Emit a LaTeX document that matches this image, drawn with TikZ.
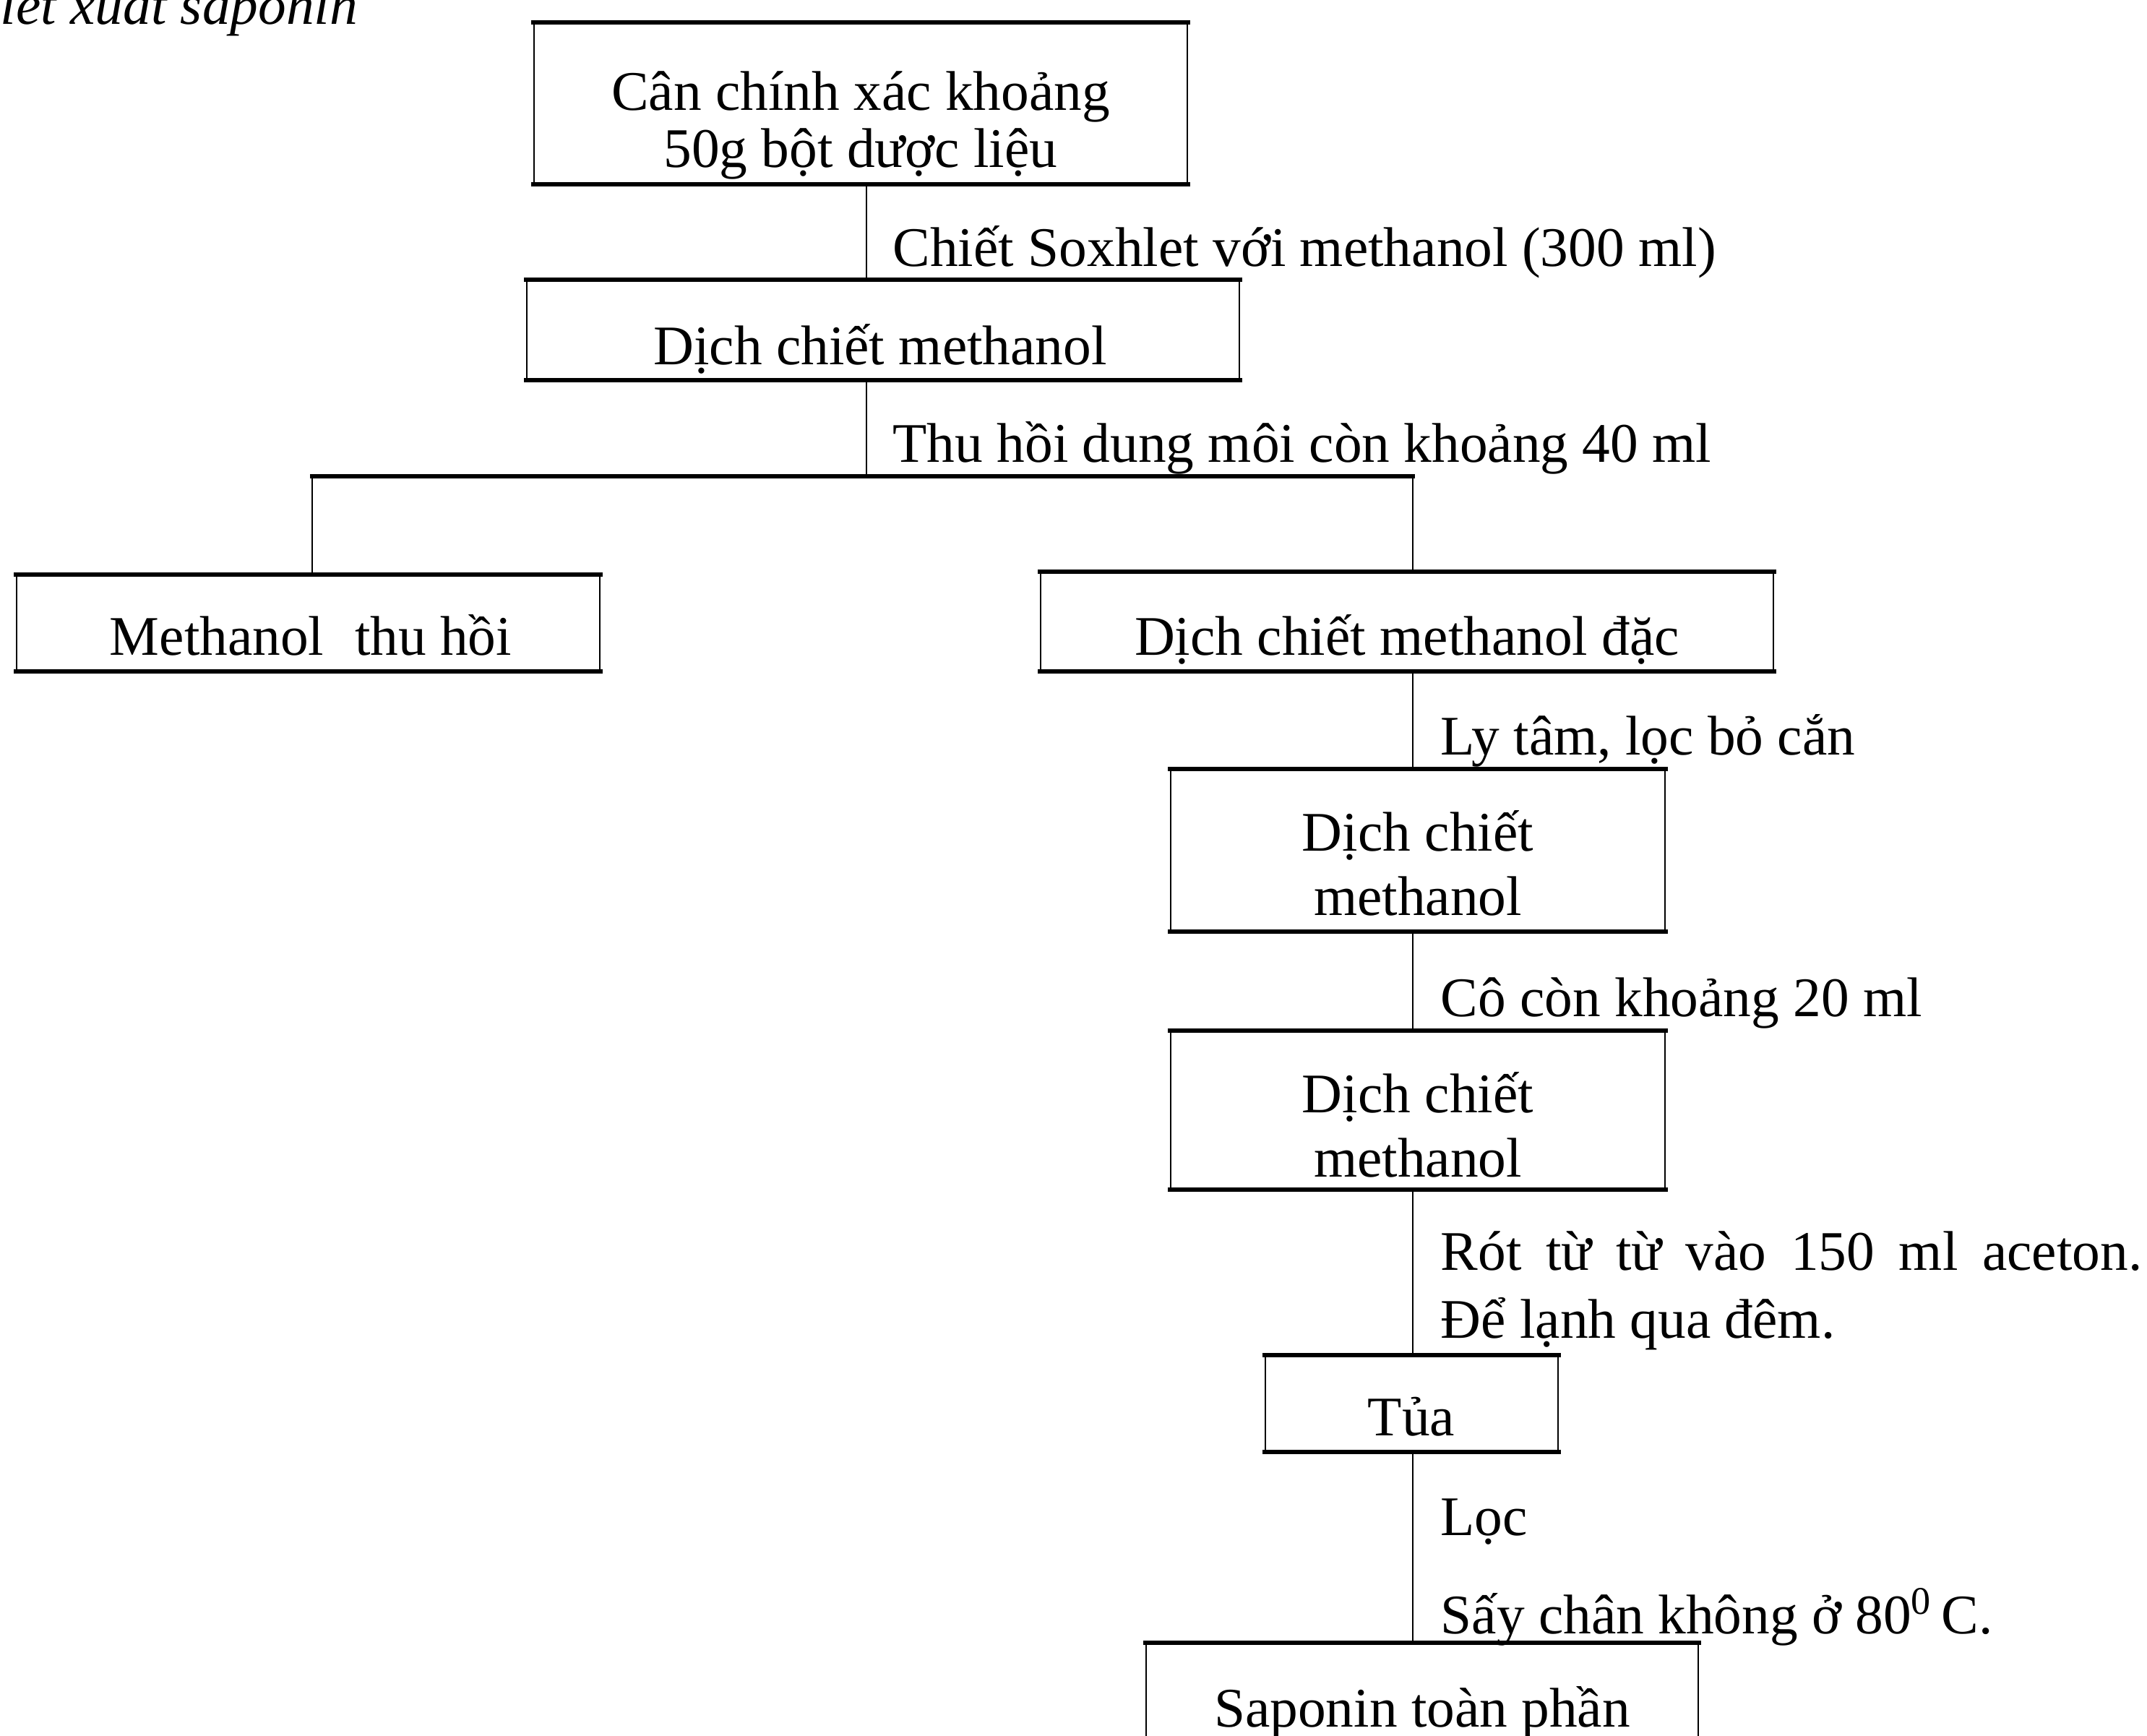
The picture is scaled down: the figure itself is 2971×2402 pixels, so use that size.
\documentclass[tikz,border=0pt]{standalone}
\usepackage{fontspec}
\setmainfont{Liberation Serif}
\usetikzlibrary{fit}
\begin{document}
\begin{tikzpicture}[x=0.01cm,y=-0.01cm,
  box/.style={draw, line width=0.6pt, inner sep=0pt},
  edge/.style={line width=1.8pt, line cap=rect},
  conn/.style={line width=0.8pt},
  txt/.style={inner sep=0pt, anchor=base, font=\fontsize{22}{26}\selectfont},
  lbl/.style={txt, anchor=base west}]
\useasboundingbox (0,0) rectangle (2971,2402);
\clip (0,0) rectangle (2971,2402);
\fill[white] (0,0) rectangle (2971,2402);

% title (cut off at top, as in the reference)
\node[lbl, font=\fontsize{22}{26}\selectfont\itshape] (title) at (0,33) {iết xuất saponin};

% boxes
\node[box, fit={(739,32) (1643,254)}] (b1) {};
\node[box, fit={(729,388) (1715,525)}] (b2) {};
\node[box, fit={(23,796) (830,928)}] (b3) {};
\node[box, fit={(1440,792) (2454,928)}] (b4) {};
\node[box, fit={(1620,1065) (2304,1288)}] (b5) {};
\node[box, fit={(1620,1427) (2304,1645)}] (b6) {};
\node[box, fit={(1751,1876) (2156,2008)}] (b7) {};
\node[box, fit={(1586,2274) (2350,2470)}] (b8) {};

% thick top and bottom edges
\foreach \b in {b1,b2,b3,b4,b5,b6,b7,b8}{
  \draw[edge] (\b.north west) -- (\b.north east);
  \draw[edge] (\b.south west) -- (\b.south east);
}

% box texts
\node[txt] (t1a) at (1191,152) {Cân chính xác khoảng};
\node[txt] (t1b) at (1191,231) {50g bột dược liệu};
\node[txt] (t2) at (1218,504) {Dịch chiết methanol};
\node[txt] (t3) at (430,906) {Methanol\hspace{0.55em}thu hồi};
\node[txt] (t4) at (1947,906) {Dịch chiết methanol đặc};
\node[txt] (t5a) at (1962,1177) {Dịch chiết};
\node[txt] (t5b) at (1962,1266) {methanol};
\node[txt] (t6a) at (1962,1539) {Dịch chiết};
\node[txt] (t6b) at (1962,1628) {methanol};
\node[txt] (t7) at (1953,1986) {Tủa};
\node[txt] (t8) at (1968,2389) {Saponin toàn phần};

% connectors
\coordinate (c1) at (1199,0);
\draw[conn] (b1.south -| c1) -- (b2.north -| c1);
\coordinate (split) at (1199,659);
\coordinate (sl) at (432,659);
\coordinate (sr) at (1955,659);
\draw[conn] (b2.south -| split) -- (split);
\draw[edge] (sl) -- (sr);
\draw[conn] (sl) -- (b3.north -| sl);
\draw[conn] (sr) -- (b4.north -| sr);
\coordinate (col) at (1955,0);
\draw[conn] (b4.south -| col) -- (b5.north -| col);
\draw[conn] (b5.south -| col) -- (b6.north -| col);
\draw[conn] (b6.south -| col) -- (b7.north -| col);
\draw[conn] (b7.south -| col) -- (b8.north -| col);

% step labels
\node[lbl] (l1) at (1235,368) {Chiết Soxhlet với methanol (300 ml)};
\node[lbl] (l2) at (1235,639) {Thu hồi dung môi còn khoảng 40 ml};
\node[lbl] (l3) at (1993,1044) {Ly tâm, lọc bỏ cắn};
\node[lbl] (l4) at (1993,1406) {Cô còn khoảng 20 ml};
\node[lbl] (l5a) at (1993,1757) {\makebox[9.7cm][s]{Rót từ từ vào 150 ml aceton.}};
\node[lbl] (l5b) at (1993,1851) {Để lạnh qua đêm.};
\node[lbl] (l6) at (1993,2124) {Lọc};
\node[lbl] (l7) at (1993,2260) {Sấy chân không ở 80\textsuperscript{0}\,C.};
\end{tikzpicture}
\end{document}
